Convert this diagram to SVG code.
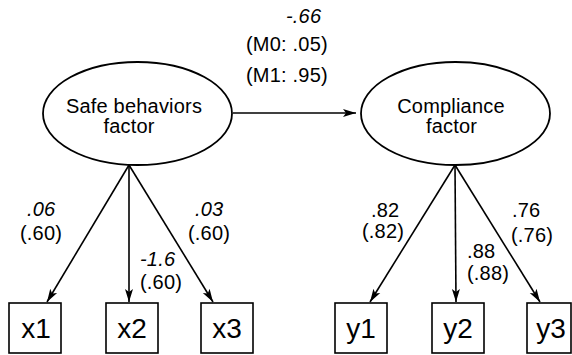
<svg xmlns="http://www.w3.org/2000/svg" width="572" height="355" viewBox="0 0 572 355">
<style>
.lbl{font-family:"Liberation Sans",Arial,sans-serif;font-size:20px;letter-spacing:0.2px;fill:#000}
.it{font-style:italic}
.box{fill:#fff;stroke:#000;stroke-width:1.6}
.ell{fill:#fff;stroke:#000;stroke-width:1.8}
.bt{font-family:"Liberation Sans",Arial,sans-serif;font-size:28px;fill:#000;text-anchor:middle}
.et{font-family:"Liberation Sans",Arial,sans-serif;font-size:20px;letter-spacing:0.2px;fill:#000;text-anchor:middle}
.edge{stroke:#000;stroke-width:1.6;fill:none;marker-end:url(#arr)}
</style>
<defs>
<marker id="arr" markerUnits="userSpaceOnUse" markerWidth="14" markerHeight="10" viewBox="0 0 14 10" refX="13" refY="5" orient="auto">
<path d="M0,1 L13,5 L0,9 L3,5 z" fill="#000"/>
</marker>
</defs>
<rect width="572" height="355" fill="#fff"/>
<g id="connectors">
<line class="edge" x1="233" y1="113" x2="356" y2="113"/>
<line class="edge" x1="129" y1="165" x2="47" y2="302"/>
<line class="edge" x1="129" y1="165" x2="129" y2="302"/>
<line class="edge" x1="129" y1="165" x2="213" y2="302"/>
<line class="edge" x1="455" y1="165" x2="370" y2="302"/>
<line class="edge" x1="455" y1="165" x2="456" y2="302"/>
<line class="edge" x1="455" y1="165" x2="540" y2="302"/>
</g>
<g id="labels">
<text class="lbl it" x="286" y="23">-.66</text>
<text class="lbl" x="246" y="51">(M0: .05)</text>
<text class="lbl" x="246" y="82">(M1: .95)</text>
<text class="lbl it" x="27" y="216">.06</text>
<text class="lbl" x="20" y="240">(.60)</text>
<text class="lbl it" x="140" y="266">-1.6</text>
<text class="lbl" x="140" y="289">(.60)</text>
<text class="lbl it" x="195" y="216">.03</text>
<text class="lbl" x="188" y="240">(.60)</text>
<text class="lbl" x="371" y="217">.82</text>
<text class="lbl" x="362" y="238">(.82)</text>
<text class="lbl" x="467" y="258">.88</text>
<text class="lbl" x="467" y="280">(.88)</text>
<text class="lbl" x="512" y="217">.76</text>
<text class="lbl" x="511" y="242">(.76)</text>
</g>
<g id="safe">
<ellipse class="ell" cx="137.5" cy="113.5" rx="94.5" ry="51.5"/>
<text class="et" x="134" y="113">Safe behaviors</text>
<text class="et" x="129" y="133">factor</text>
</g>
<g id="compliance">
<ellipse class="ell" cx="455.5" cy="113.5" rx="94.5" ry="51.5"/>
<text class="et" x="451" y="113">Compliance</text>
<text class="et" x="451.5" y="133">factor</text>
</g>
<g id="x1"><rect class="box" x="9" y="303" width="52" height="50"/><text class="bt" x="36" y="338">x1</text></g>
<g id="x2"><rect class="box" x="106" y="303" width="52" height="50"/><text class="bt" x="132" y="338">x2</text></g>
<g id="x3"><rect class="box" x="201" y="303" width="52" height="50"/><text class="bt" x="227" y="338">x3</text></g>
<g id="y1"><rect class="box" x="335" y="303" width="52" height="50"/><text class="bt" x="361" y="338">y1</text></g>
<g id="y2"><rect class="box" x="432" y="303" width="52" height="50"/><text class="bt" x="458" y="338">y2</text></g>
<g id="y3"><rect class="box" x="527" y="303" width="44" height="50"/><text class="bt" x="551" y="338">y3</text></g>
</svg>
